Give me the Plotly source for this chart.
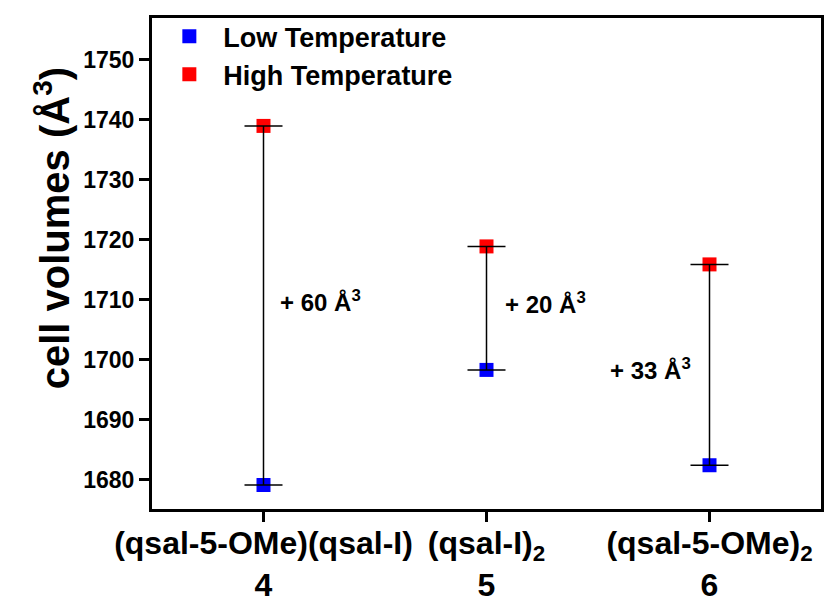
import plotly.graph_objects as go

categories = ["(qsal-5-OMe)(qsal-I)<br>4", "(qsal-I)<sub>2</sub><br>5", "(qsal-5-OMe)<sub>2</sub><br>6"]
cat_pos = [0, 1, 2]
low_temp = [1679.1, 1698.3, 1682.4]
high_temp = [1739.0, 1718.9, 1715.9]
diff_labels = ["+ 60 Å<sup>3</sup>", "+ 20 Å<sup>3</sup>", "+ 33 Å<sup>3</sup>"]
label_x = [0.067, 1.072, 1.543]
label_y = [1709.8, 1709.5, 1698.4]
y_ticks = [1680, 1690, 1700, 1710, 1720, 1730, 1740, 1750]
y_title = "cell volumes (Å<sup>3</sup>)"

FONT = "Arial, Liberation Sans, sans-serif"

fig = go.Figure()
fig.add_trace(go.Scatter(
    x=cat_pos, y=low_temp, mode="markers", name="Low Temperature",
    marker=dict(symbol="square", size=14, color="#0000ff", line=dict(width=0)),
))
fig.add_trace(go.Scatter(
    x=cat_pos, y=high_temp, mode="markers", name="High Temperature",
    marker=dict(symbol="square", size=14, color="#ff0000", line=dict(width=0)),
))
fig.add_trace(go.Scatter(
    x=cat_pos, y=high_temp, mode="markers", showlegend=False, hoverinfo="skip",
    marker=dict(size=1, opacity=0),
    error_y=dict(type="data", symmetric=False,
                 array=[0, 0, 0],
                 arrayminus=[h - l for h, l in zip(high_temp, low_temp)],
                 width=19, thickness=1.5, color="black"),
))

for x, y, t in zip(label_x, label_y, diff_labels):
    fig.add_annotation(x=x, y=y, xref="x", yref="y", text=t, showarrow=False,
                       xanchor="left", yanchor="middle",
                       font=dict(family=FONT, size=24, color="black", weight="bold"))

# y-axis title placed as a rotated annotation (reference title sits above centre)
fig.add_annotation(x=-0.150, y=0.571, xref="paper", yref="paper", text=y_title,
                   showarrow=False, textangle=-90, xanchor="center", yanchor="middle",
                   font=dict(family=FONT, size=40, color="black", weight="bold"))

fig.update_layout(
    width=838, height=608,
    margin=dict(l=152, r=17, t=15, b=99),
    paper_bgcolor="white", plot_bgcolor="white",
    font=dict(family=FONT, color="black", weight="bold"),
    legend=dict(x=0.005, y=1.012, xanchor="left", yanchor="top",
                bgcolor="rgba(0,0,0,0)", borderwidth=0,
                font=dict(family=FONT, size=27, color="black", weight="bold"),
                itemwidth=58, tracegroupgap=0),
    showlegend=True,
)
fig.update_xaxes(
    range=[-0.5, 2.5], tickmode="array", tickvals=cat_pos, ticktext=categories,
    tickangle=0, ticklabelstandoff=-6,
    showline=True, mirror=True, linecolor="black", linewidth=3,
    ticks="outside", ticklen=10, tickwidth=2.5, tickcolor="black",
    showgrid=False, zeroline=False, automargin=False,
    tickfont=dict(family=FONT, size=32, color="black", weight="bold"),
)
fig.update_yaxes(
    range=[1675.1, 1757.0], tickmode="array", tickvals=y_ticks,
    showline=True, mirror=True, linecolor="black", linewidth=3,
    ticks="outside", ticklen=10, tickwidth=2.5, tickcolor="black",
    showgrid=False, zeroline=False, automargin=False,
    tickfont=dict(family=FONT, size=23, color="black", weight="bold"),
)

fig.write_html("out.html")
